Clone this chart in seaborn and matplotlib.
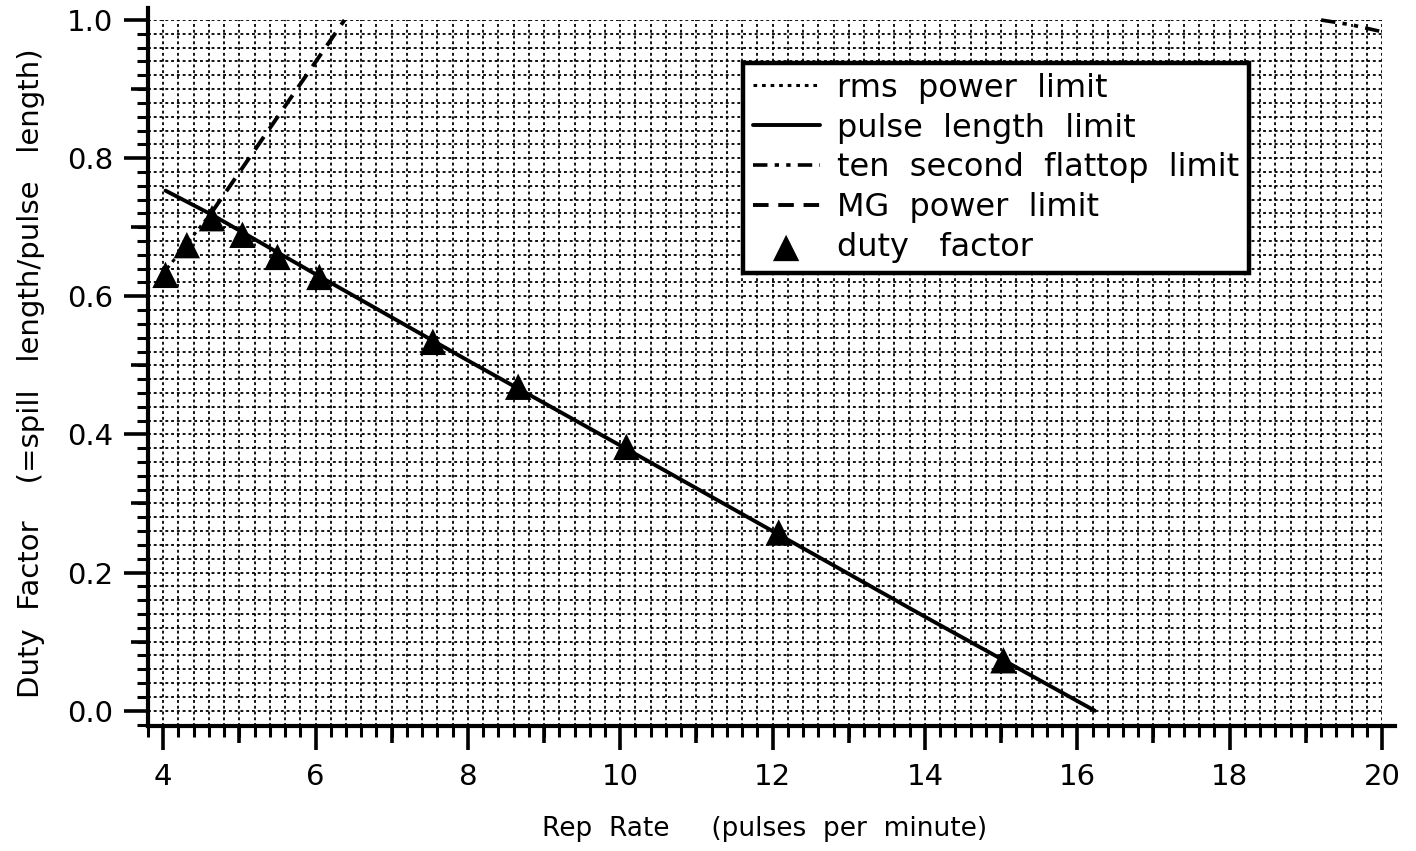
import numpy as np
import pandas as pd
import matplotlib
matplotlib.use("Agg")
import matplotlib.pyplot as plt
from matplotlib.ticker import MultipleLocator, FixedLocator, NullFormatter
import seaborn as sns

# ---- data ----
duty_rate = [4.03, 4.31, 4.64, 5.04, 5.5, 6.05, 7.54, 8.66, 10.08, 12.08, 15.03]
duty_val = [0.631, 0.674, 0.713, 0.689, 0.657, 0.628, 0.534, 0.469, 0.382, 0.258, 0.073]

pulse_rate = [4.03, 4.64, 6.0, 8.0, 10.0, 12.0, 14.0, 16.23]
pulse_val = [0.753, 0.718, 0.632, 0.507, 0.384, 0.260, 0.136, 0.0]

rms_rate = [4.05, 4.64]
rms_val = [0.640, 0.722]

mg_rate = [4.64, 6.38]
mg_val = [0.722, 1.0]

flat_rate = [19.2, 19.6, 20.0]
flat_val = [1.0, 0.993, 0.983]

xticks = [4, 6, 8, 10, 12, 14, 16, 18, 20]
yticks = [0.0, 0.2, 0.4, 0.6, 0.8, 1.0]

sns.set_theme(style="white")
plt.rcParams["font.family"] = ["DejaVu Sans"]
plt.rcParams["axes.unicode_minus"] = False
plt.rcParams["text.color"] = "black"

fig = plt.figure(figsize=(14.16, 8.51), dpi=100)
ax = fig.add_axes([0.1045, 0.147, 0.8715, 0.8295])

# lines
sns.lineplot(x=rms_rate, y=rms_val, ax=ax, color="black", lw=2.2,
             linestyle=(0, (1.2, 1.6)), label="rms  power  limit", sort=False)
sns.lineplot(x=pulse_rate, y=pulse_val, ax=ax, color="black", lw=2.8,
             label="pulse  length  limit", sort=False)
sns.lineplot(x=flat_rate, y=flat_val, ax=ax, color="black", lw=2.6,
             linestyle=(0, (4, 2, 1.2, 2, 1.2, 2)), label="ten  second  flattop  limit",
             sort=False)
sns.lineplot(x=mg_rate, y=mg_val, ax=ax, color="black", lw=2.8,
             linestyle=(0, (4, 2.5)), label="MG  power  limit", sort=False)
sns.scatterplot(x=duty_rate, y=duty_val, ax=ax, marker="^", s=360, color="black",
                edgecolor="none", label="duty   factor", zorder=5)

for ln in ax.lines:
    ln.set_clip_on(False)

ax.set_xlim(3.8, 20)
ax.set_ylim(-0.022, 1.0)

# ticks
ax.xaxis.set_major_locator(FixedLocator(xticks))
ax.xaxis.set_minor_locator(MultipleLocator(0.2))
ax.yaxis.set_major_locator(FixedLocator(yticks))
ax.yaxis.set_minor_locator(MultipleLocator(0.02))
ax.set_xticklabels([str(t) for t in xticks])
ax.set_yticklabels([f"{t:.1f}" for t in yticks])
ax.tick_params(axis="both", which="major", direction="out", length=17, width=2.6,
               color="black", labelsize=21, labelcolor="black")
ax.tick_params(axis="both", which="minor", direction="out", length=8, width=2.2,
               color="black")
ax.tick_params(axis="x", which="major", pad=10)
ax.tick_params(axis="y", which="major", pad=8)
ax.tick_params(bottom=True, left=True, which="both")

# medium ticks at odd integers / odd tenths
secx = ax.secondary_xaxis("bottom")
secx.xaxis.set_major_locator(FixedLocator([5, 7, 9, 11, 13, 15, 17, 19]))
secx.xaxis.set_major_formatter(NullFormatter())
secx.tick_params(length=12, width=2.6, direction="out", color="black")
secx.spines["bottom"].set_visible(False)
secy = ax.secondary_yaxis("left")
secy.yaxis.set_major_locator(FixedLocator([0.1, 0.3, 0.5, 0.7, 0.9]))
secy.yaxis.set_major_formatter(NullFormatter())
secy.tick_params(length=12, width=2.6, direction="out", color="black")
secy.spines["left"].set_visible(False)

# grid
ax.grid(which="both", axis="both", color="black", linestyle=(0, (1.6, 1.6)),
        linewidth=1.3)
ax.set_axisbelow(True)

# spines
for s in ["top", "right"]:
    ax.spines[s].set_visible(False)
for s in ["left", "bottom"]:
    ax.spines[s].set_linewidth(3.0)
    ax.spines[s].set_color("black")
ax.spines["left"].set_bounds(-0.022, 1.017)
ax.spines["bottom"].set_bounds(3.8, 20.17)

ax.set_xlabel("Rep  Rate     (pulses  per  minute)", fontsize=19, labelpad=18,
              color="black")
ax.set_ylabel("Duty  Factor    (=spill   length/pulse   length)", fontsize=21,
              labelpad=16, color="black")

handles, labels = ax.get_legend_handles_labels()
leg = ax.legend(handles, labels, loc="upper left",
                bbox_to_anchor=(743 / 1416, 1 - 63 / 851),
                bbox_transform=fig.transFigure, fontsize=23, frameon=True,
                fancybox=False, edgecolor="black", framealpha=1,
                handlelength=2.1, handletextpad=0.55, labelspacing=0.28,
                borderpad=0.3, borderaxespad=0, markerscale=1.0)
leg.get_frame().set_linewidth(3.2)
leg.set_zorder(10)
for t in leg.get_texts():
    t.set_color("black")

fig.savefig("out.png", dpi=100, facecolor="white")
